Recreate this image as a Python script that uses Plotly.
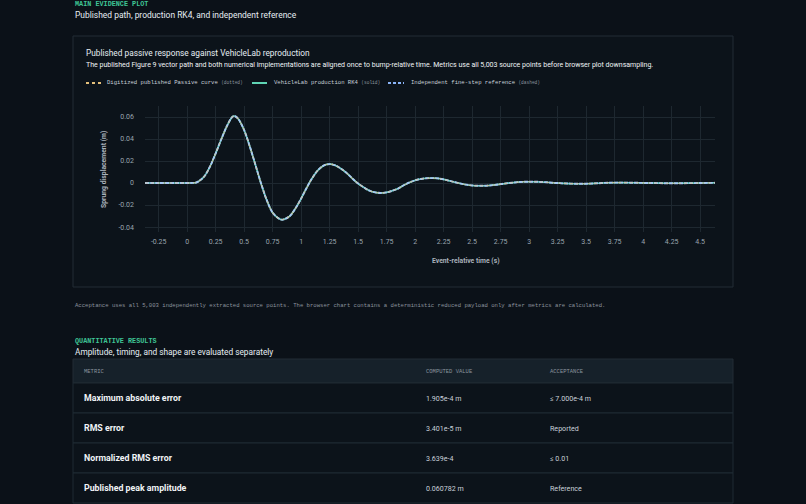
import plotly.graph_objects as go

# event-relative time (s) and sprung displacement (m)
time_s = [-0.37, -0.25, -0.1, 0.0, 0.05, 0.08, 0.10, 0.15, 0.20, 0.25, 0.30, 0.35,
          0.40, 0.42, 0.45, 0.50, 0.55, 0.60, 0.65, 0.70, 0.75, 0.80, 0.83, 0.85,
          0.90, 0.95, 1.00, 1.05, 1.10, 1.15, 1.20, 1.25, 1.30, 1.35, 1.40, 1.45,
          1.50, 1.55, 1.60, 1.65, 1.70, 1.75, 1.80, 1.85, 1.90, 1.95, 2.00, 2.05,
          2.10, 2.15, 2.20, 2.25, 2.30, 2.35, 2.40, 2.45, 2.50, 2.55, 2.60, 2.65,
          2.70, 2.75, 2.80, 2.85, 2.90, 2.95, 3.00, 3.05, 3.10, 3.15, 3.20, 3.25,
          3.30, 3.40, 3.50, 3.60, 3.70, 3.80, 3.90, 4.00, 4.10, 4.20, 4.30, 4.40,
          4.50, 4.63]
published_disp = [0, 0, 0, 0, 0.0001, 0.0005, 0.0015, 0.006, 0.015, 0.027, 0.040, 0.052,
                  0.0605, 0.0607, 0.058, 0.048, 0.033, 0.016, -0.001, -0.016, -0.027, -0.032, -0.0333, -0.033,
                  -0.030, -0.023, -0.014, -0.004, 0.005, 0.012, 0.016, 0.0172, 0.016, 0.013, 0.009, 0.004,
                  -0.0005, -0.004, -0.007, -0.0085, -0.009, -0.0085, -0.007, -0.005, -0.002, 0.0005, 0.0025, 0.0037,
                  0.0043, 0.0045, 0.0042, 0.0033, 0.002, 0.0007, -0.0005, -0.0015, -0.0022, -0.0025, -0.0025, -0.0022,
                  -0.0017, -0.001, -0.0003, 0.0003, 0.0008, 0.0011, 0.0012, 0.0012, 0.001, 0.0007, 0.0003, 0.0,
                  -0.0003, -0.0006, -0.0006, -0.0002, 0.0003, 0.0004, 0.0003, 0.0001, 0.0, -0.0002, -0.0002, -0.0001,
                  0.0, 0.0002]
rk4_disp = published_disp          # overlays the published path at this scale
reference_disp = published_disp

x_ticks = [-0.25, 0, 0.25, 0.5, 0.75, 1, 1.25, 1.5, 1.75, 2, 2.25, 2.5, 2.75, 3, 3.25, 3.5, 3.75, 4, 4.25, 4.5]
y_ticks = [-0.04, -0.02, 0, 0.02, 0.04, 0.06]

metrics = ["Maximum absolute error", "RMS error", "Normalized RMS error", "Published peak amplitude"]
computed = ["1.905e-4 m", "3.401e-5 m", "3.639e-4", "0.060782 m"]
acceptance = ["≤ 7.000e-4 m", "Reported", "≤ 0.01", "Reference"]

W, H = 806, 504
BG = "#0b1118"
SANS = "Roboto, Noto Sans, sans-serif"
MONO = "Liberation Mono, monospace"
TEAL = "#3fc495"


def px(x):
    return x / W


def py(y):
    return 1 - y / H


def label(x, y, text, size, color="#e6edf3", font=SANS, anchor="left"):
    return dict(x=px(x), y=py(y), xref="paper", yref="paper", text=text, showarrow=False,
                xanchor=anchor, yanchor="middle", font=dict(family=font, size=size, color=color))


fig = go.Figure()
fig.add_trace(go.Scatter(x=time_s, y=rk4_disp, mode="lines", line=dict(color="#5fd4b4", width=1.6),
                         line_shape="spline", name="VehicleLab production RK4"))
fig.add_trace(go.Scatter(x=time_s, y=reference_disp, mode="lines",
                         line=dict(color="#a6c8f5", width=1.9, dash="4px,1px"), line_shape="spline",
                         name="Independent fine-step reference"))
fig.add_trace(go.Scatter(x=time_s, y=published_disp, mode="lines",
                         line=dict(color="#e5c07b", width=1.1, dash="dot"), line_shape="spline",
                         opacity=0.6, name="Digitized published Passive curve"))

shapes = []
# chart panel
shapes.append(dict(type="rect", xref="paper", yref="paper", x0=px(73), x1=px(733), y0=py(36), y1=py(287),
                   line=dict(color="#222c35", width=1), fillcolor="#0c131a", layer="below"))
# legend samples
shapes.append(dict(type="line", xref="paper", yref="paper", x0=px(86), x1=px(101), y0=py(83), y1=py(83),
                   line=dict(color="#e5c07b", width=2, dash="dot")))
shapes.append(dict(type="line", xref="paper", yref="paper", x0=px(252), x1=px(267), y0=py(83), y1=py(83),
                   line=dict(color="#5fd4b4", width=2)))
shapes.append(dict(type="line", xref="paper", yref="paper", x0=px(388), x1=px(404), y0=py(83), y1=py(83),
                   line=dict(color="#8ab4f8", width=2, dash="3px,2px")))
# table
shapes.append(dict(type="rect", xref="paper", yref="paper", x0=px(73), x1=px(733), y0=py(359), y1=py(383),
                   line=dict(color="#222c35", width=1), fillcolor="#16212a"))
row_top = 383
row_h = 30
for i in range(len(metrics)):
    shapes.append(dict(type="rect", xref="paper", yref="paper", x0=px(73), x1=px(733),
                       y0=py(row_top + i * row_h), y1=py(row_top + (i + 1) * row_h),
                       line=dict(color="#1f2a33", width=1), fillcolor="#0c131a"))

ann = [
    label(73, 4, "<b>MAIN EVIDENCE PLOT</b>", 6.8, TEAL, MONO),
    label(73, 15, "Published path, production RK4, and independent reference", 8.45),
    label(84, 53, "Published passive response against VehicleLab reproduction", 8.3),
    label(84, 65, "The published Figure 9 vector path and both numerical implementations are aligned once "
                  "to bump-relative time. Metrics use all 5,003 source points before browser plot downsampling.",
          7.0, "#f0f3f6"),
    label(105, 83, "Digitized published Passive curve <span style='font-size:4.5px;color:#8b949e'>(dotted)</span>",
          5.6, "#c9d1d9", MONO),
    label(272, 83, "VehicleLab production RK4 <span style='font-size:4.5px;color:#8b949e'>(solid)</span>",
          5.6, "#c9d1d9", MONO),
    label(409, 83, "Independent fine-step reference <span style='font-size:4.5px;color:#8b949e'>(dashed)</span>",
          5.6, "#c9d1d9", MONO),
    label(430, 261, "<b>Event-relative time (s)</b>", 6.8, "#a9b1ba"),
    dict(x=px(98), y=py(169), xref="paper", yref="paper", text="<b>Sprung displacement (m)</b>",
         showarrow=False, textangle=-90, font=dict(family=SANS, size=6.8, color="#a9b1ba")),
    label(73, 305, "Acceptance uses all 5,003 independently extracted source points. The browser chart contains "
                   "a deterministic reduced payload only after metrics are calculated.", 5.6, "#8b949e", MONO),
    label(73, 341, "<b>QUANTITATIVE RESULTS</b>", 6.8, TEAL, MONO),
    label(73, 352, "Amplitude, timing, and shape are evaluated separately", 8.3),
    label(82, 371, "METRIC", 5.5, "#8b949e", MONO),
    label(424, 371, "COMPUTED VALUE", 5.5, "#8b949e", MONO),
    label(548, 371, "ACCEPTANCE", 5.5, "#8b949e", MONO),
]
for i, (m, c, a) in enumerate(zip(metrics, computed, acceptance)):
    yc = row_top + i * row_h + row_h / 2
    ann.append(label(82, yc, "<b>" + m + "</b>", 8.8, "#f0f3f6"))
    ann.append(label(424, yc, c, 7.1, "#c9d1d9"))
    ann.append(label(548, yc, a, 7.1, "#c9d1d9"))

fig.update_layout(
    width=W, height=H,
    margin=dict(l=0, r=0, t=0, b=0),
    paper_bgcolor=BG, plot_bgcolor="rgba(0,0,0,0)",
    showlegend=False,
    shapes=shapes, annotations=ann,
    xaxis=dict(domain=[px(145), px(715)], range=[-0.37, 4.63], tickvals=x_ticks,
               ticktext=[f"{v:g}" for v in x_ticks], showgrid=True, gridcolor="#1e2830", gridwidth=1,
               zeroline=False, showline=False, ticks="", ticklabelstandoff=4,
               tickfont=dict(family=SANS, size=7, color="#9aa4ae")),
    yaxis=dict(domain=[py(232), py(106)], range=[-0.0445, 0.070], tickvals=y_ticks,
               ticktext=[f"{v:g}" for v in y_ticks], showgrid=True, gridcolor="#1e2830", gridwidth=1,
               zeroline=False, showline=False, ticks="", ticklabelstandoff=10,
               tickfont=dict(family=SANS, size=7, color="#9aa4ae")),
)

# drop the default page margin so the figure fills the window
fig.write_html("out.html", config={"displayModeBar": False},
               post_script="document.body.style.margin='0';"
                           "document.body.style.background='#0b1118';")
